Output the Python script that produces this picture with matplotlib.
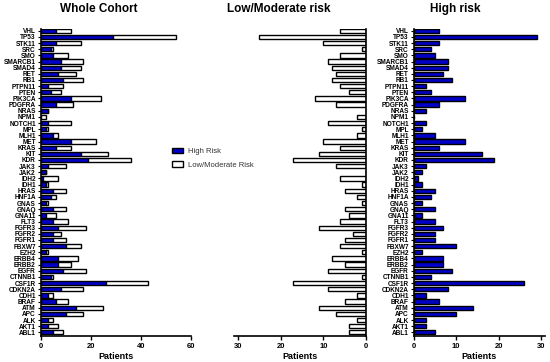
import matplotlib
matplotlib.use("Agg")
import matplotlib.pyplot as plt
from matplotlib.patches import Patch
import numpy as np

genes = ["VHL", "TP53", "STK11", "SRC", "SMO", "SMARCB1", "SMAD4", "RET", "RB1",
         "PTPN11", "PTEN", "PIK3CA", "PDGFRA", "NRAS", "NPM1", "NOTCH1", "MPL",
         "MLH1", "MET", "KRAS", "KIT", "KDR", "JAK3", "JAK2", "IDH2", "IDH1",
         "HRAS", "HNF1A", "GNAS", "GNAQ", "GNA11", "FLT3", "FGFR3", "FGFR2",
         "FGFR1", "FBXW7", "EZH2", "ERBB4", "ERBB2", "EGFR", "CTNNB1", "CSF1R",
         "CDKN2A", "CDH1", "BRAF", "ATM", "APC", "ALK", "AKT1", "ABL1"]
high_risk = [6, 29, 6, 4, 5, 8, 8, 7, 9, 3, 4, 12, 6, 3, 0, 3, 2, 5, 12, 6, 16, 19,
             3, 2, 1, 2, 5, 4, 2, 5, 2, 5, 7, 5, 5, 10, 2, 7, 7, 9, 4, 26, 8, 3,
             6, 14, 10, 3, 3, 5]
low_mod_risk = [6, 25, 10, 1, 6, 9, 8, 7, 8, 6, 4, 12, 7, 0, 2, 9, 1, 2, 10, 6, 11,
                17, 7, 0, 6, 1, 5, 2, 1, 5, 4, 6, 11, 3, 5, 6, 1, 8, 5, 9, 1, 17,
                9, 2, 5, 11, 7, 2, 4, 4]
whole_ticks = [0, 20, 40, 60]
lm_ticks = [0, 10, 20, 30]
hr_ticks = [0, 10, 20, 30]

BLUE = "#0000C8"
W, H = 550, 362
plt.rcParams['font.family'] = ['Liberation Sans', 'DejaVu Sans']

fig = plt.figure(figsize=(W / 100, H / 100), dpi=100)

def fx(px):
    return px / W

def fy(py):
    return (H - py) / H

y_top_px, y_bot_px = 28.7, 335.7
b = fy(y_bot_px)
h = fy(y_top_px) - b

n = len(genes)
ypos = np.arange(n)[::-1]  # VHL top
ylim = (-0.55, n - 1 + 0.33)
bh = 0.7
ew = 1.0

def style(ax, side):
    ax.set_ylim(*ylim)
    for s in ax.spines.values():
        s.set_linewidth(1.2)
    ax.spines['top'].set_visible(False)
    if side == 'left':
        ax.spines['right'].set_visible(False)
    else:
        ax.spines['left'].set_visible(False)
    ax.tick_params(axis='x', length=3, width=1, pad=2, labelsize=5.5)
    ax.tick_params(axis='y', length=2, width=0.8, pad=1.5, labelsize=4.7)
    for lbl in ax.get_xticklabels():
        lbl.set_fontweight('bold')
    ax.set_xlabel("Patients", fontsize=6.5, fontweight='bold', labelpad=2)

# Whole cohort
ax1 = fig.add_axes([fx(40.7), b, fx(190.7) - fx(40.7), h])
ax1.barh(ypos, high_risk, height=bh, color=BLUE, edgecolor='black', linewidth=ew)
ax1.barh(ypos, low_mod_risk, left=high_risk, height=bh, color='white',
         edgecolor='black', linewidth=ew)
ax1.set_xlim(0, 60)
ax1.set_xticks(whole_ticks)
ax1.set_yticks(ypos)
ax1.set_yticklabels(genes, fontweight='bold')
style(ax1, 'left')

# Low/Moderate
lm_left = 366 - 31 * 4.267
ax2 = fig.add_axes([fx(lm_left), b, fx(366) - fx(lm_left), h])
ax2.barh(ypos, low_mod_risk, height=bh, color='white', edgecolor='black', linewidth=ew)
ax2.set_xlim(31, 0)
ax2.set_xticks(lm_ticks)
ax2.yaxis.tick_right()
ax2.set_yticks(ypos)
ax2.set_yticklabels([])
style(ax2, 'right')
ax2.tick_params(axis='y', length=0)

# High risk
hr_right = 413.7 + 31 * 4.243
ax3 = fig.add_axes([fx(413.7), b, fx(hr_right) - fx(413.7), h])
ax3.barh(ypos, high_risk, height=bh, color=BLUE, edgecolor='black', linewidth=ew)
ax3.set_xlim(0, 31)
ax3.set_xticks(hr_ticks)
ax3.set_yticks(ypos)
ax3.set_yticklabels(genes, fontweight='bold')
style(ax3, 'left')

# Titles
fig.text(fx(99), fy(9), "Whole Cohort", ha='center', va='center', fontsize=8.5, fontweight='bold')
fig.text(fx(279), fy(9), "Low/Moderate risk", ha='center', va='center', fontsize=8.5, fontweight='bold')
fig.text(fx(455), fy(9), "High risk", ha='center', va='center', fontsize=8.5, fontweight='bold')

# Legend
handles = [Patch(facecolor=BLUE, edgecolor='black', linewidth=1.0, label="High Risk"),
           Patch(facecolor='white', edgecolor='black', linewidth=1.0, label="Low/Moderate Risk")]
leg = fig.legend(handles=handles, loc='upper left', bbox_to_anchor=(fx(172), fy(148)),
                 frameon=False, fontsize=5.5, handlelength=1.5, handleheight=0.7,
                 handletextpad=0.6, labelspacing=0.8, borderaxespad=0, borderpad=0)
for t in leg.get_texts():
    t.set_color('#333333')

fig.savefig("out.png", dpi=100)
